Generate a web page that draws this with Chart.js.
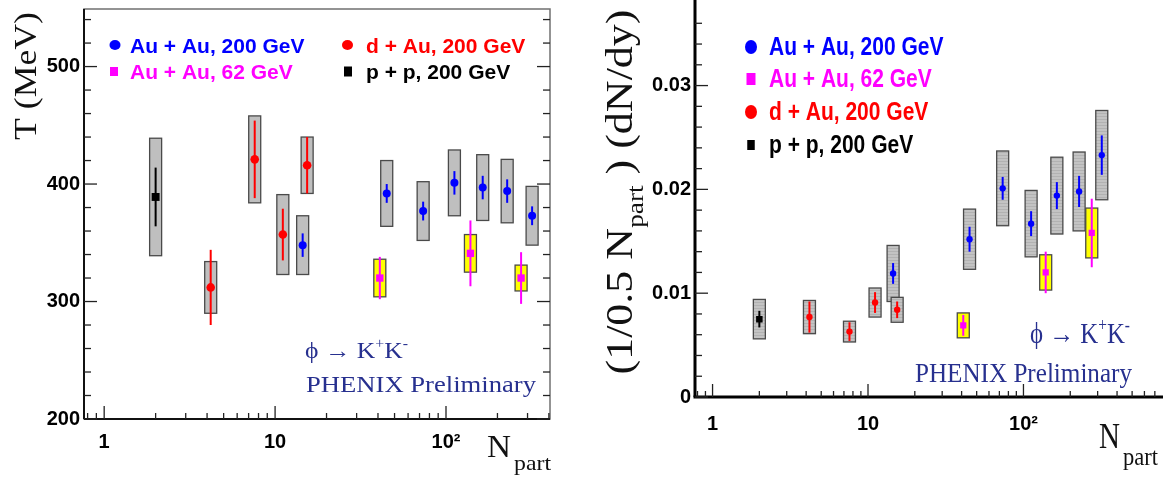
<!DOCTYPE html>
<html>
<head>
<meta charset="utf-8">
<script src="https://cdn.jsdelivr.net/npm/chart.js@4.4.0/dist/chart.umd.min.js"></script>
<style>
  html, body { margin: 0; padding: 0; background: #fff; }
  #wrap { position: relative; width: 1163px; height: 478px; overflow: hidden; }
  #cT { position: absolute; left: 0; top: 0; }
  #cY { position: absolute; left: 580px; top: 0; }
</style>
</head>
<body>
<div id="wrap">
  <canvas id="cT" width="580" height="478"></canvas>
  <canvas id="cY" width="583" height="478"></canvas>
</div>
<script>
// series names (legend)
const seriesLabels = ['Au + Au, 200 GeV', 'Au + Au, 62 GeV', 'd + Au, 200 GeV', 'p + p, 200 GeV'];

// N_part of each centrality bin
const nPartAuAu200 = [14.5, 45, 73.5, 112, 164, 228, 319];
const nPartAuAu62 = [41, 139, 275];
const nPartDAu = [4.2, 7.6, 11.1, 15.4];
const nPartPP = [2.0];

// inverse slope T (MeV), stat and sys errors
const tAuAu200 = [348, 392, 377, 401, 397, 394, 373];
const tAuAu200Stat = [10, 8, 8, 10, 10, 10, 8];
const tAuAu200Sys = [25, 28, 25, 28, 28, 27, 25];
const tAuAu62 = [320, 341, 320];
const tAuAu62Stat = [18, 28, 22];
const tAuAu62Sys = [16, 16, 11];
const tDAu = [312, 421, 357, 416];
const tDAuStat = [32, 33, 22, 24];
const tDAuSys = [22, 37, 34, 24];
const tPP = [389];
const tPPStat = [25];
const tPPSys = [50];

// yield per participant pair (1/0.5 Npart) dN/dy
const yAuAu200 = [0.0119, 0.0152, 0.0201, 0.0167, 0.0194, 0.0198, 0.0233];
const yAuAu200Stat = [0.0010, 0.0012, 0.0011, 0.0012, 0.0013, 0.0015, 0.0019];
const yAuAu200Sys = [0.0027, 0.0029, 0.0036, 0.0032, 0.0037, 0.0038, 0.0043];
const yAuAu62 = [0.0069, 0.0120, 0.0158];
const yAuAu62Stat = [0.0010, 0.0020, 0.0033];
const yAuAu62Sys = [0.0012, 0.0017, 0.0024];
const yDAu = [0.0077, 0.0063, 0.0091, 0.0084];
const yDAuStat = [0.0015, 0.0009, 0.0010, 0.0008];
const yDAuSys = [0.0016, 0.0010, 0.0014, 0.0012];
const yPP = [0.0075];
const yPPStat = [0.0008];
const yPPSys = [0.0019];

// axis ticks
const nPartTicks = [1, 10, 100];
const nPartTickLabels = ['1', '10', '10\u00b2'];
const tTicks = [200, 300, 400, 500];
const tTickLabels = ['200', '300', '400', '500'];
const yieldTicks = [0, 0.01, 0.02, 0.03];
const yieldTickLabels = ['0', '0.01', '0.02', '0.03'];

const BLUE = '#0000ff', MAGENTA = '#ff00ff', RED = '#ff0000', BLACK = '#000000';
const GRAYBOX = '#bfbfbf', YELLOWBOX = '#ffff00', INK = '#27308f';

function pts(xs, ys) {
  return xs.map((x, i) => ({ x: x, y: ys[i] }));
}

function makeSet(label, xs, ys, stat, sys, color, boxFill, style, r) {
  return {
    label: label, data: pts(xs, ys), stat: stat, sys: sys, boxFill: boxFill,
    backgroundColor: color, borderColor: color, pointStyle: style,
    pointRadius: r, pointBorderWidth: 0, showLine: false
  };
}

// striped gray like the scanned boxes
function stripes(ctx) {
  const c = document.createElement('canvas');
  c.width = 4; c.height = 3;
  const g = c.getContext('2d');
  g.fillStyle = '#c3c3c3'; g.fillRect(0, 0, 4, 3);
  g.fillStyle = '#b2b2b2'; g.fillRect(0, 2, 4, 1);
  return ctx.createPattern(c, 'repeat');
}

// text with sub/superscripts, optional stretch
function rich(ctx, parts, x, y, o) {
  const size = o.size, fam = o.family || 'Liberation Serif', wt = o.weight || 'normal';
  const fontOf = k => wt + ' ' + (k === 'n' ? size : size * 0.62) + 'px "' + fam + '"';
  ctx.save();
  let total = 0;
  parts.forEach(p => { ctx.font = fontOf(p[1]); total += ctx.measureText(p[0]).width; });
  const sx = o.width ? o.width / total : 1;
  ctx.translate(x, y);
  if (o.rot) ctx.rotate(o.rot);
  ctx.scale(sx, o.sy || 1);
  ctx.fillStyle = o.color || '#000';
  ctx.textBaseline = 'alphabetic';
  ctx.textAlign = 'left';
  let cx = o.align === 'center' ? -total / 2 : 0;
  parts.forEach(p => {
    ctx.font = fontOf(p[1]);
    const dy = p[1] === 'sup' ? -size * 0.42 : (p[1] === 'sub' ? size * 0.3 : 0);
    ctx.fillText(p[0], cx, dy);
    cx += ctx.measureText(p[0]).width;
  });
  ctx.restore();
}

function marker(ctx, kind, x, y, w, h, color) {
  ctx.fillStyle = color;
  ctx.beginPath();
  if (kind === 'circle') ctx.ellipse(x, y, w / 2, h / 2, 0, 0, Math.PI * 2);
  else ctx.rect(x - w / 2, y - h / 2, w, h);
  ctx.fill();
}

// boxes for sys errors, lines for stat errors
function errorsPlugin(boxW, striped) {
  return {
    id: 'errs',
    beforeDatasetsDraw(chart) {
      const ctx = chart.ctx, xs = chart.scales.x, ys = chart.scales.y;
      const pat = striped ? stripes(ctx) : null;
      ctx.save();
      chart.data.datasets.forEach(ds => {
        ds.data.forEach((p, i) => {
          const px = xs.getPixelForValue(p.x);
          const t = ys.getPixelForValue(p.y + ds.sys[i]);
          const b = ys.getPixelForValue(p.y - ds.sys[i]);
          ctx.fillStyle = (pat && ds.boxFill === GRAYBOX) ? pat : ds.boxFill;
          ctx.fillRect(px - boxW / 2, t, boxW, b - t);
          ctx.strokeStyle = '#4a4a4a';
          ctx.lineWidth = 1.3;
          ctx.strokeRect(px - boxW / 2, t, boxW, b - t);
        });
      });
      chart.data.datasets.forEach(ds => {
        ds.data.forEach((p, i) => {
          const px = xs.getPixelForValue(p.x);
          ctx.strokeStyle = ds.borderColor;
          ctx.lineWidth = 2;
          ctx.beginPath();
          ctx.moveTo(px, ys.getPixelForValue(p.y + ds.stat[i]));
          ctx.lineTo(px, ys.getPixelForValue(p.y - ds.stat[i]));
          ctx.stroke();
        });
      });
      ctx.restore();
    }
  };
}

function line(ctx, x1, y1, x2, y2) {
  ctx.beginPath(); ctx.moveTo(x1, y1); ctx.lineTo(x2, y2); ctx.stroke();
}

// inward tick marks on given sides
function drawTicks(chart, yStep, yMajors, sides, maj, min) {
  const ctx = chart.ctx, a = chart.chartArea, xs = chart.scales.x, ys = chart.scales.y;
  ctx.save();
  ctx.strokeStyle = '#222';
  ctx.lineWidth = 1.3;
  for (let n = 0; ; n++) {
    const v = ys.min + n * yStep;
    if (v > ys.max + 1e-12) break;
    const py = ys.getPixelForValue(v);
    const len = yMajors.some(m => Math.abs(m - v) < yStep / 10) ? maj : min;
    if (sides.left) line(ctx, a.left, py, a.left + len, py);
    if (sides.right) line(ctx, a.right, py, a.right - len, py);
  }
  for (let e = -1; e <= 3; e++) {
    for (let k = 1; k <= 9; k++) {
      const v = k * Math.pow(10, e);
      if (v < xs.min || v > xs.max) continue;
      const px = xs.getPixelForValue(v);
      line(ctx, px, a.bottom, px, a.bottom - (k === 1 ? maj : 6));
    }
  }
  ctx.restore();
}

const tickFontT = { family: 'Liberation Sans', weight: 'bold', size: 20 };
const tickFontY = { family: 'Liberation Sans', weight: 'bold', size: 20 };

function makeChart(id, datasets, xr, yr, yTicks, yLabels, geom, boxW, striped, deco) {
  return new Chart(document.getElementById(id), {
    type: 'scatter',
    data: { datasets: datasets },
    options: {
      responsive: false,
      animation: false,
      events: [],
      layout: { padding: { top: geom.top, right: geom.right, left: 0, bottom: 0 } },
      plugins: { legend: { display: false }, tooltip: { enabled: false } },
      scales: {
        x: {
          type: 'logarithmic', min: xr[0], max: xr[1],
          border: { display: false }, grid: { display: false, drawTicks: false },
          afterBuildTicks: s => { s.ticks = nPartTicks.map(v => ({ value: v })); },
          afterFit: s => { s.height = geom.xH; s.paddingLeft = 0; s.paddingRight = 0; },
          ticks: {
            autoSkip: false, maxRotation: 0, padding: geom.xPad, color: '#000', font: geom.font,
            callback: (v, i) => nPartTickLabels[i]
          }
        },
        y: {
          type: 'linear', min: yr[0], max: yr[1],
          border: { display: false }, grid: { display: false, drawTicks: false },
          afterBuildTicks: s => { s.ticks = yTicks.map(v => ({ value: v })); },
          afterFit: s => { s.width = geom.yW; s.paddingTop = 0; s.paddingBottom = 0; },
          ticks: {
            autoSkip: false, padding: geom.yPad, color: '#000', font: geom.font,
            callback: (v, i) => yLabels[i]
          }
        }
      }
    },
    plugins: [errorsPlugin(boxW, striped), { id: 'deco', afterDraw: deco }]
  });
}

// left panel: temperature
makeChart('cT', [
  makeSet(seriesLabels[0], nPartAuAu200, tAuAu200, tAuAu200Stat, tAuAu200Sys, BLUE, GRAYBOX, 'circle', 4),
  makeSet(seriesLabels[1], nPartAuAu62, tAuAu62, tAuAu62Stat, tAuAu62Sys, MAGENTA, YELLOWBOX, 'rect', 5.2),
  makeSet(seriesLabels[2], nPartDAu, tDAu, tDAuStat, tDAuSys, RED, GRAYBOX, 'circle', 4.3),
  makeSet(seriesLabels[3], nPartPP, tPP, tPPStat, tPPSys, BLACK, GRAYBOX, 'rect', 5.6)
], [0.762, 406], [200, 549], tTicks, tTickLabels,
  { top: 9, right: 30, xH: 59, yW: 84, xPad: 11, yPad: 4, font: tickFontT }, 12, false,
  function (chart) {
    const ctx = chart.ctx, a = chart.chartArea;
    ctx.save();
    ctx.strokeStyle = '#707070'; ctx.lineWidth = 1.5;
    ctx.strokeRect(a.left, a.top, a.right - a.left, a.bottom - a.top);
    ctx.strokeStyle = '#111'; ctx.lineWidth = 2;
    line(ctx, a.left, a.top, a.left, a.bottom);
    line(ctx, a.left, a.bottom, a.right, a.bottom);
    ctx.restore();
    drawTicks(chart, 20, tTicks, { left: true, right: true }, 13, 7);

    // legend
    marker(ctx, 'circle', 115, 45, 11, 10, BLUE);
    marker(ctx, 'rect', 114, 71.5, 8, 9, MAGENTA);
    marker(ctx, 'circle', 347.5, 45, 11, 10, RED);
    marker(ctx, 'rect', 348, 71.5, 8, 10, BLACK);
    const lf = { family: 'Liberation Sans', weight: 'bold', size: 21 };
    rich(ctx, [[seriesLabels[0], 'n']], 130, 53, Object.assign({ color: BLUE }, lf));
    rich(ctx, [[seriesLabels[1], 'n']], 130, 79, Object.assign({ color: MAGENTA }, lf));
    rich(ctx, [[seriesLabels[2], 'n']], 366, 53, Object.assign({ color: RED }, lf));
    rich(ctx, [[seriesLabels[3], 'n']], 366, 79, Object.assign({ color: BLACK }, lf));

    // annotation
    rich(ctx, [['\u03d5 \u2192 K', 'n'], ['+', 'sup'], ['K', 'n'], ['-', 'sup']], 305, 358,
      { size: 23, width: 103, color: INK });
    rich(ctx, [['PHENIX Preliminary', 'n']], 306, 392, { size: 24, width: 230, color: INK });

    // axis titles
    rich(ctx, [['T (MeV)', 'n']], 36, 76, { size: 31, width: 128, rot: -Math.PI / 2, align: 'center', color: '#111' });
    rich(ctx, [['N', 'n']], 487, 457, { size: 31, width: 24, color: '#111' });
    rich(ctx, [['part', 'n']], 514, 470, { size: 22, width: 37, color: '#111' });
  });

// right panel: yield
makeChart('cY', [
  makeSet(seriesLabels[0], nPartAuAu200, yAuAu200, yAuAu200Stat, yAuAu200Sys, BLUE, GRAYBOX, 'circle', 3.2),
  makeSet(seriesLabels[1], nPartAuAu62, yAuAu62, yAuAu62Stat, yAuAu62Sys, MAGENTA, YELLOWBOX, 'rect', 4.4),
  makeSet(seriesLabels[2], nPartDAu, yDAu, yDAuStat, yDAuSys, RED, GRAYBOX, 'circle', 3.2),
  makeSet(seriesLabels[3], nPartPP, yPP, yPPStat, yPPSys, BLACK, GRAYBOX, 'rect', 4.6)
], [0.771, 738], [0, 0.0378], yieldTicks, yieldTickLabels,
  { top: 0, right: 0, xH: 81, yW: 115, xPad: 15, yPad: 4, font: tickFontY }, 12, true,
  function (chart) {
    const ctx = chart.ctx, a = chart.chartArea;
    ctx.save();
    ctx.strokeStyle = '#000'; ctx.lineWidth = 3;
    line(ctx, a.left, 0, a.left, a.bottom);
    line(ctx, a.left - 1.5, a.bottom, chart.width, a.bottom);
    ctx.restore();
    drawTicks(chart, 0.002, yieldTicks, { left: true }, 13, 7);

    // legend
    marker(ctx, 'circle', 171, 47, 12, 14, BLUE);
    marker(ctx, 'rect', 171, 79, 9, 12, MAGENTA);
    marker(ctx, 'circle', 171, 112, 12, 14, RED);
    marker(ctx, 'rect', 171, 145, 7.5, 10, BLACK);
    const lf = { family: 'Liberation Sans', weight: 'bold', size: 21, sy: 1.2 };
    rich(ctx, [[seriesLabels[0], 'n']], 189, 55, Object.assign({ color: BLUE }, lf));
    rich(ctx, [[seriesLabels[1], 'n']], 189, 87, Object.assign({ color: MAGENTA }, lf));
    rich(ctx, [[seriesLabels[2], 'n']], 189, 120, Object.assign({ color: RED }, lf));
    rich(ctx, [[seriesLabels[3], 'n']], 189, 153, Object.assign({ color: BLACK }, lf));

    // annotation
    rich(ctx, [['\u03d5 \u2192 K', 'n'], ['+', 'sup'], ['K', 'n'], ['-', 'sup']], 450, 343,
      { size: 24, width: 100, sy: 1.2, color: INK });
    rich(ctx, [['PHENIX Preliminary', 'n']], 335, 382, { size: 24, width: 217, sy: 1.1, color: INK });

    // axis titles
    rich(ctx, [['(1/0.5 N', 'n'], ['part', 'sub'], [' ) (dN/dy)', 'n']], 52, 192,
      { size: 37, width: 365, rot: -Math.PI / 2, align: 'center', color: '#111' });
    rich(ctx, [['N', 'n']], 519, 448, { size: 28, width: 21, sy: 1.25, color: '#111' });
    rich(ctx, [['part', 'n']], 543, 465, { size: 22, width: 35, sy: 1.15, color: '#111' });
  });
</script>
</body>
</html>
